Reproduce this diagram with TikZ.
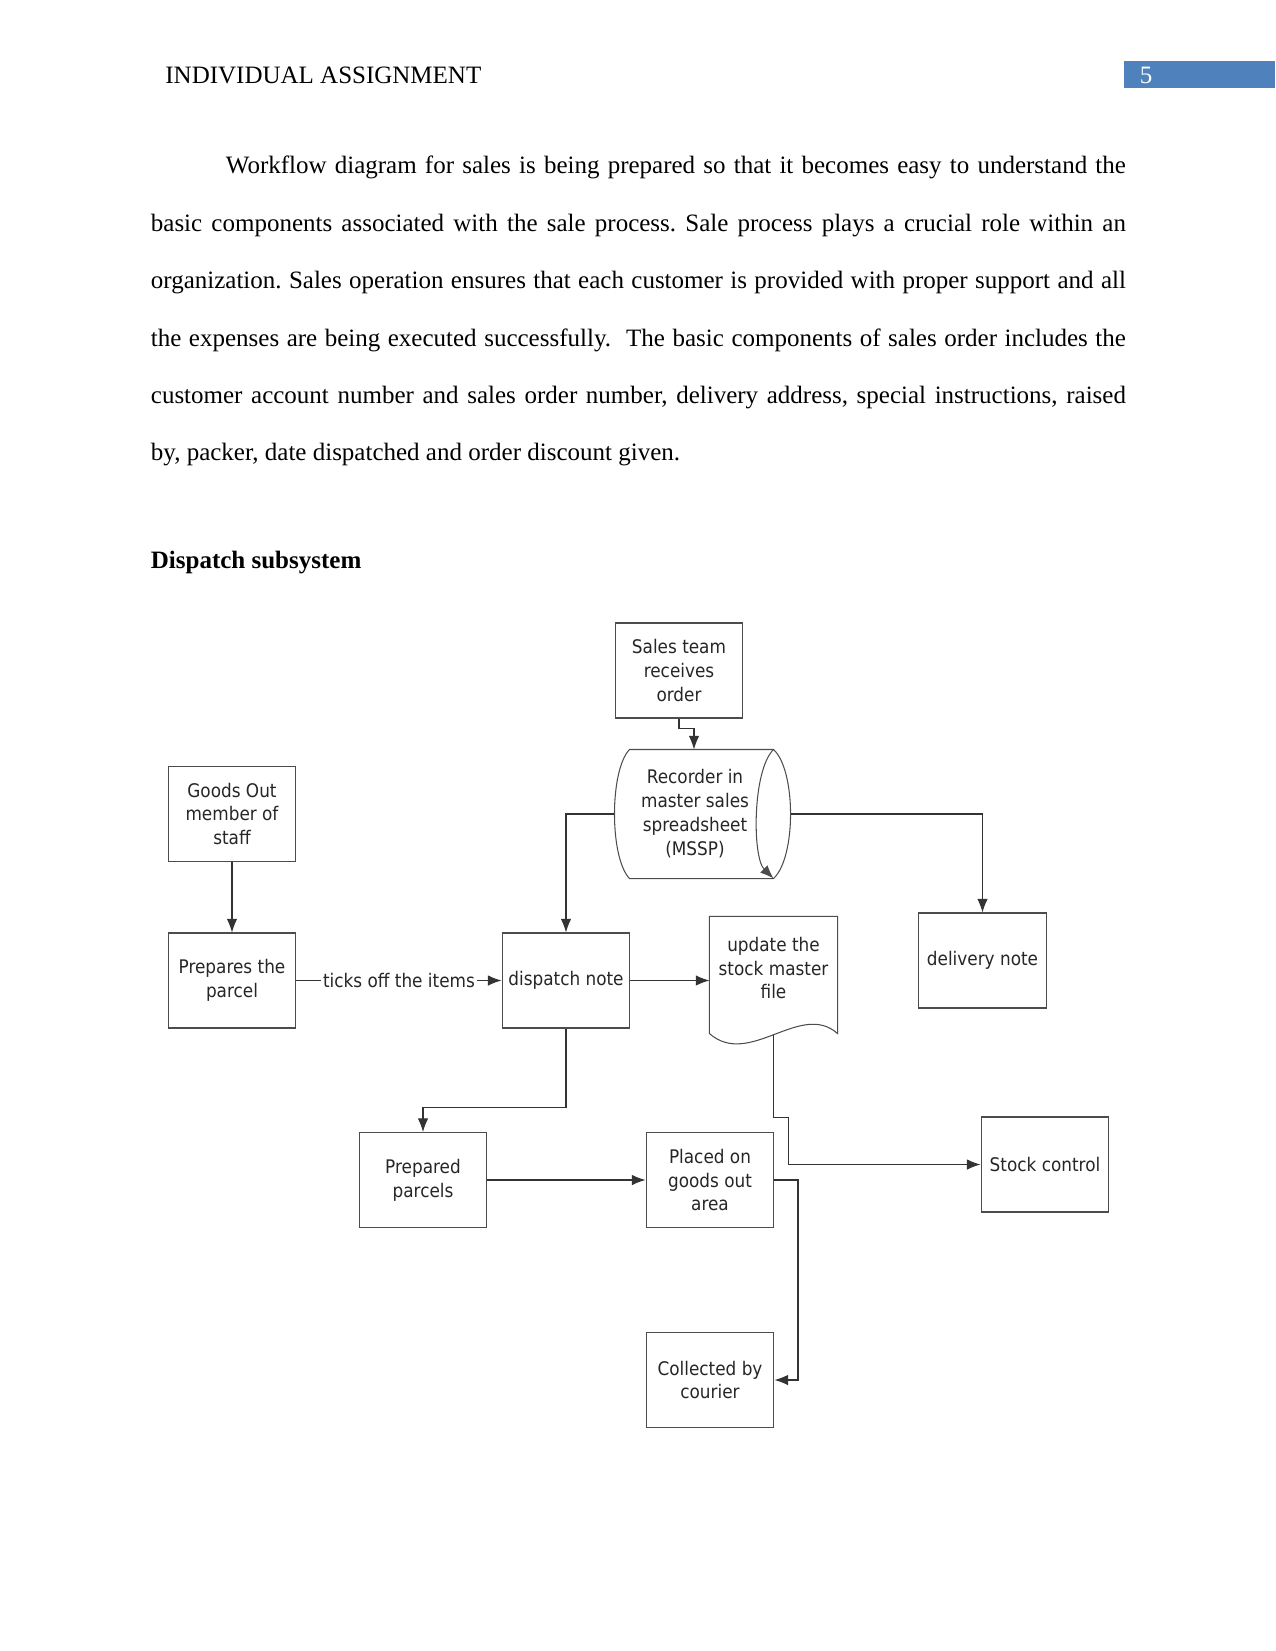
\documentclass[tikz,border=0pt]{standalone}
\usepackage{fontspec}
\setmainfont{Liberation Serif}
\newfontfamily\flowfont[FakeStretch=0.9]{DejaVu Sans}
\usetikzlibrary{arrows.meta,calc}
\definecolor{hdrblue}{HTML}{4F81BD}
\tikzset{
  box/.style={draw=black!70, line width=0.5pt, minimum width=61.4pt, minimum height=45.6pt,
    inner sep=1pt, align=center, text=black!85, font=\flowfont\fontsize{9}{11.5}\selectfont},
  arr/.style={-{Latex[length=6.5pt,width=5pt]}, line width=0.5pt, draw=black!80},
  outline/.style={draw=black!70, line width=0.5pt},
}
\begin{document}
\begin{tikzpicture}[x=0.48pt,y=-0.48pt]
  \useasboundingbox (0,0) rectangle (1275,1651);
  % page header
  \node[anchor=base west, inner sep=0, font=\fontsize{12}{14}\selectfont] (hdr) at (165,84) {INDIVIDUAL ASSIGNMENT};
  \fill[hdrblue] (1124,61) rectangle (1275,88);
  \node[text=white, inner sep=0, font=\fontsize{12}{14}\selectfont] (pg) at (1146,75) {5};
  \node[anchor=base west, inner sep=0, text width=468pt, align=justify, font=\fontsize{12}{27.55}\selectfont\frenchspacing] (intro) at (150.5,174)
    {\hspace*{36pt}Workflow diagram for sales is being prepared so that it becomes easy to understand the\linebreak
     basic components associated with the sale process. Sale process plays a crucial role within an\linebreak
     organization. Sales operation ensures that each customer is provided with proper support and all\linebreak
     the expenses are being executed successfully.\ \ The basic components of sales order includes the\linebreak
     customer account number and sales order number, delivery address, special instructions, raised\linebreak
     by, packer, date dispatched and order discount given.};
  \node[anchor=base west, inner sep=0, font=\bfseries\fontsize{12}{14}\selectfont] (title) at (150.5,568) {Dispatch subsystem};

  % flow
  \node[box] (sales) at (679,670.5) {Sales team\\receives\\order};
  \node[box, draw=none, minimum width=62.4pt, minimum height=61.44pt] (mssp) at (695,814) {Recorder in\\master sales\\spreadsheet\\(MSSP)};
  \node[box] (goods) at (232,814) {Goods Out\\member of\\staff};
  \node[box] (prepare) at (232,980.5) {Prepares the\\parcel};
  \node[box] (dispatch) at (566,980.5) {dispatch note};
  \node[box, draw=none, minimum width=61pt, minimum height=49pt] (update) at (773.5,968) {update the\\stock master\\file};
  \node[box] (delivery) at (982.5,960.5) {delivery note};
  \node[box] (stock) at (1045,1164.5) {Stock control};
  \node[box] (parcels) at (423,1180) {Prepared\\parcels};
  \node[box] (placed) at (710,1180) {Placed on\\goods out\\area};
  \node[box] (courier) at (710,1380) {Collected by\\courier};

  \coordinate (msspNE) at ($(mssp.north east)+(13,0)$);
  \coordinate (msspSE) at ($(mssp.south east)+(13,0)$);
  \draw[outline] (mssp.north west) -- (msspNE)
    .. controls +(22.7,21) and +(22.7,-21) .. (msspSE) -- (mssp.south west)
    .. controls +(-20,-21) and +(-20,21) .. (mssp.north west);
  \draw[arr, draw=black!70] (msspNE) .. controls +(-21.3,21) and +(-21.3,-21) .. (msspSE);
  \draw[outline] (update.north west) -- (update.north east) -- ($(update.south east)+(0,14)$)
    .. controls +(-37,-33) and +(40,35) .. ($(update.south west)+(0,14)$) -- cycle;

  \coordinate (msspL) at ($(mssp.west)+(-15,0)$);
  \coordinate (msspR) at ($(mssp.east)+(30,0)$);
  \coordinate (updbot) at ($(update.south)+(0,15)$);

  \draw[arr] (sales.south) -- ++(0,9.5) -| ($(mssp.north)+(-1,0)$);
  \draw[arr] (goods) -- (prepare);
  \draw[arr] (prepare) -- node[fill=white, inner sep=1pt, text=black!85, font=\flowfont\fontsize{9}{11.5}\selectfont] (ticks) {ticks off the items} (dispatch);
  \draw[arr] (dispatch.east) -- (dispatch.east -| update.west);
  \draw[arr] (msspL) -| (dispatch.north);
  \draw[arr] (msspR) -| (delivery.north);
  \draw[arr] (dispatch.south) -- ++(0,79) -| (parcels.north);
  \draw[arr] (updbot) -- ++(0,82.7) -- ++(15,0) |- (stock.west);
  \draw[arr] (parcels) -- (placed);
  \draw[arr] (placed.east) -- ++(23.5,0) |- (courier.east);
\end{tikzpicture}
\end{document}
